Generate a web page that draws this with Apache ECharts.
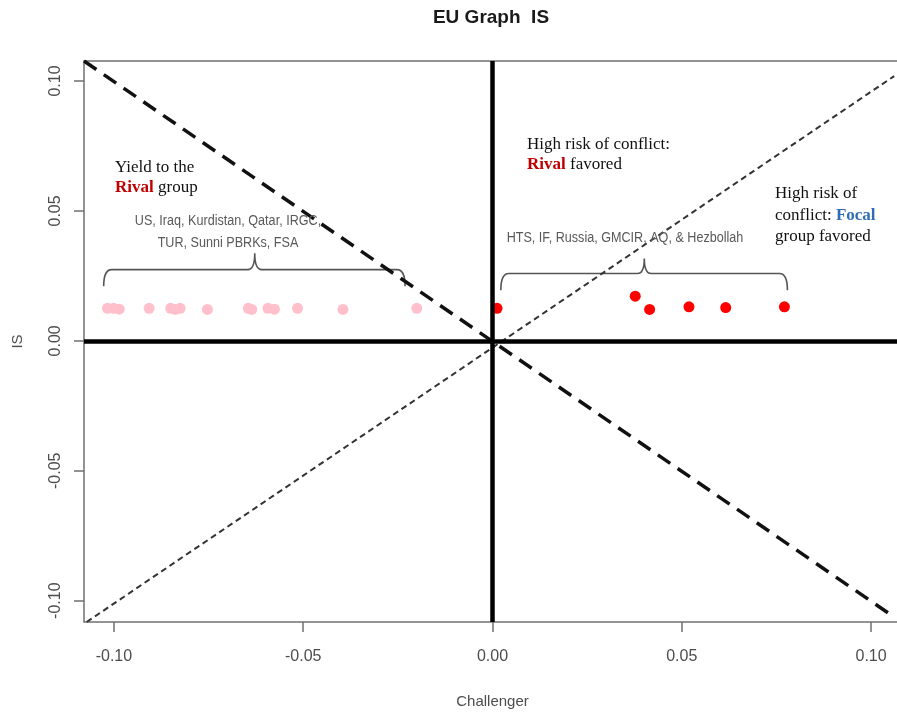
<!DOCTYPE html>
<html>
<head>
<meta charset="utf-8">
<script src="https://cdn.jsdelivr.net/npm/echarts@6/dist/echarts.min.js"></script>
<style>
  html, body { margin: 0; padding: 0; background: #fff; }
  #chart { width: 897px; height: 712px; }
</style>
</head>
<body>
<div id="chart"></div>
<script>
// Tick positions shared by both axes
const tickValues = [-0.10, -0.05, 0.00, 0.05, 0.10];

// Challengers that yield to the rival group (pink)
const yieldX = [-0.1017, -0.1001, -0.0986, -0.0907, -0.0850, -0.0838, -0.0825, -0.0753,
                -0.0645, -0.0636, -0.0593, -0.0576, -0.0515, -0.0395, -0.0200];
const yieldY = [0.0125, 0.0125, 0.0122, 0.0125, 0.0125, 0.0121, 0.0125, 0.0121,
                0.0125, 0.0121, 0.0125, 0.0122, 0.0125, 0.0121, 0.0125];

// Challengers with high risk of conflict (red)
const riskX = [0.0012, 0.0377, 0.0415, 0.0519, 0.0616, 0.0771];
const riskY = [0.0125, 0.0172, 0.0121, 0.0131, 0.0128, 0.0131];

// Reference diagonals (end points)
const diagDown = [[-0.1079, 0.1077], [0.1055, -0.1057]];
const diagUp = [[-0.1072, -0.1082], [0.1061, 0.1019]];

// Curly braces: [from x, to x, tip x, bar y, end y, tip y]
const braces = [
  [-0.1027, -0.0231, -0.0628, 0.0274, 0.0210, 0.0337],
  [0.0022, 0.0779, 0.0401, 0.0259, 0.0195, 0.0317]
];

const pair = (xs, ys) => xs.map((x, i) => [x, ys[i]]);

const chart = echarts.init(document.getElementById('chart'), null, { renderer: 'canvas' });

const tickLabel = {
  fontFamily: 'Liberation Sans, Arial, sans-serif',
  fontSize: 16,
  color: '#4d4d4d',
  formatter: v => v.toFixed(2)
};

const serif = 'Liberation Serif, Times New Roman, serif';
const sans = '"Liberation Sans", Arial, sans-serif';

chart.setOption({
  animation: false,
  backgroundColor: '#fff',
  title: {
    text: 'EU Graph  IS',
    left: 486,
    textAlign: 'center',
    top: 3,
    textStyle: { fontFamily: 'Liberation Sans, Arial, sans-serif', fontSize: 19, fontWeight: 'bold', color: '#1a1a1a' }
  },
  grid: {
    left: 84, right: -4, top: 61, bottom: 90,
    outerBoundsMode: 'none',
    show: true, borderColor: '#707070', borderWidth: 1.5, backgroundColor: 'transparent'
  },
  xAxis: {
    type: 'value',
    min: -0.1079, max: 0.1079,
    name: 'Challenger',
    nameLocation: 'middle',
    nameGap: 72,
    nameTextStyle: { fontFamily: 'Liberation Sans, Arial, sans-serif', fontSize: 15, color: '#4d4d4d' },
    axisLine: { show: false, onZero: false },
    axisTick: { show: true, inside: false, length: 10, customValues: tickValues, lineStyle: { color: '#707070', width: 1.5 } },
    axisLabel: Object.assign({ margin: 27, customValues: tickValues }, tickLabel),
    splitLine: { show: false }
  },
  yAxis: {
    type: 'value',
    min: -0.1082, max: 0.1077,
    name: 'IS',
    nameLocation: 'middle',
    nameGap: 59,
    nameTextStyle: { fontFamily: 'Liberation Sans, Arial, sans-serif', fontSize: 15, color: '#4d4d4d' },
    axisLine: { show: false, onZero: false },
    axisTick: { show: true, inside: false, length: 10, customValues: tickValues, lineStyle: { color: '#707070', width: 1.5 } },
    axisLabel: Object.assign({ margin: 20, rotate: 90, customValues: tickValues }, tickLabel),
    splitLine: { show: false }
  },
  series: [
    {
      type: 'scatter', name: 'Yield', z: 2,
      symbol: 'circle', symbolSize: 11,
      itemStyle: { color: '#ffc0cb', opacity: 1 },
      data: pair(yieldX, yieldY)
    },
    {
      type: 'scatter', name: 'Risk', z: 2,
      symbol: 'circle', symbolSize: 11,
      itemStyle: { color: '#ff0000', opacity: 1 },
      data: pair(riskX, riskY)
    },
    {
      type: 'line', z: 3, showSymbol: false, silent: true,
      lineStyle: { color: '#111', width: 3.5, type: [15, 9] },
      data: diagDown
    },
    {
      type: 'line', z: 3, showSymbol: false, silent: true,
      lineStyle: { color: '#333', width: 2, type: [6, 4] },
      data: diagUp
    },
    {
      type: 'line', z: 4, showSymbol: false, silent: true, data: [],
      markLine: {
        silent: true, symbol: 'none', label: { show: false },
        lineStyle: { color: '#000', width: 4.5, type: 'solid' },
        data: [{ xAxis: 0 }, { yAxis: 0 }]
      }
    },
    {
      type: 'custom', z: 3, silent: true,
      data: braces,
      renderItem: (params, api) => {
        const a = api.coord([api.value(0), api.value(4)]);
        const b = api.coord([api.value(1), api.value(4)]);
        const m = api.coord([api.value(2), api.value(3)]);
        const t = api.coord([api.value(2), api.value(5)]);
        const h = m[1];
        const r = 8, rt = 7;
        const d = [
          'M', a[0], a[1],
          'Q', a[0], h, a[0] + r, h,
          'L', m[0] - rt, h,
          'Q', m[0], h, m[0], t[1],
          'Q', m[0], h, m[0] + rt, h,
          'L', b[0] - r, h,
          'Q', b[0], h, b[0], b[1]
        ].join(' ');
        return {
          type: 'path',
          shape: { pathData: d },
          style: { fill: 'none', stroke: '#555', lineWidth: 1.6 }
        };
      }
    }
  ],
  graphic: [
    {
      type: 'text', x: 115, y: 178, z: 10,
      style: {
        text: 'Yield to the\n{r|Rival} group',
        font: '17px ' + serif, fill: '#111', lineHeight: 20,
        align: 'left', verticalAlign: 'middle',
        rich: { r: { fontWeight: 'bold', fontSize: 17, fontFamily: serif, fill: '#c00000', lineHeight: 20 } }
      }
    },
    {
      type: 'text', x: 527, y: 155, z: 10,
      style: {
        text: 'High risk of conflict:\n{r|Rival} favored',
        font: '17px ' + serif, fill: '#111', lineHeight: 20,
        align: 'left', verticalAlign: 'middle',
        rich: { r: { fontWeight: 'bold', fontSize: 17, fontFamily: serif, fill: '#c00000', lineHeight: 20 } }
      }
    },
    {
      type: 'text', x: 775, y: 215.5, z: 10,
      style: {
        text: 'High risk of\nconflict: {b|Focal}\ngroup favored',
        font: '17px ' + serif, fill: '#111', lineHeight: 21.5,
        align: 'left', verticalAlign: 'middle',
        rich: { b: { fontWeight: 'bold', fontSize: 17, fontFamily: serif, fill: '#2e6db4', lineHeight: 21.5 } }
      }
    },
    {
      // condensed grey group lists
      type: 'text', x: 228, y: 232, z: 10, scaleX: 0.9,
      style: {
        text: 'US, Iraq, Kurdistan, Qatar, IRGC,\nTUR, Sunni PBRKs, FSA',
        font: '14px ' + sans, fill: '#595959', lineHeight: 22,
        align: 'center', verticalAlign: 'middle'
      }
    },
    {
      type: 'text', x: 625, y: 238, z: 10, scaleX: 0.9,
      style: {
        text: 'HTS, IF, Russia, GMCIR, AQ, & Hezbollah',
        font: '14px ' + sans, fill: '#595959',
        align: 'center', verticalAlign: 'middle'
      }
    }
  ]
});
</script>
</body>
</html>
